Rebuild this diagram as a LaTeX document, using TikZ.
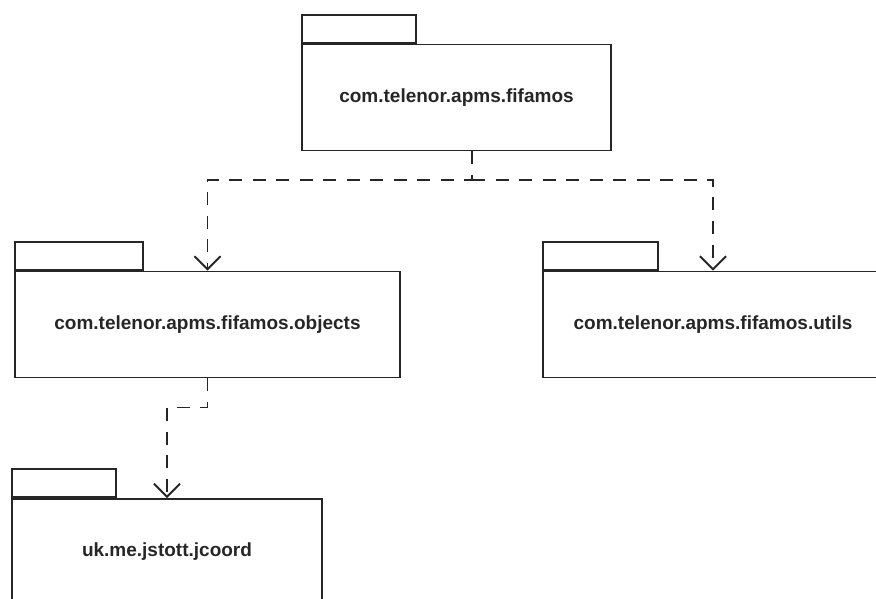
\documentclass[tikz,border=0pt]{standalone}
\usepackage{fontspec}
\setmainfont{Liberation Sans}
\usetikzlibrary{positioning,arrows.meta}
\tikzset{
  pkgbody/.style={draw=black!85, line width=1.9pt, fill=white, minimum height=106pt, align=center, inner sep=0pt, font=\bfseries\fontsize{19}{23}\selectfont, text=black!85},
  pkgtab/.style={draw=black!85, line width=1.9pt, fill=white, minimum height=28pt, inner sep=0pt, anchor=south west},
  deparrow/.style={-{Straight Barb[length=13pt, width=26pt]}, line width=1.9pt, dash pattern=on 13pt off 10.5pt, black!85}
}

\begin{document}
\begin{tikzpicture}[x=1pt, y=1pt]
  \clip (0,0) rectangle (876,-599);
  \fill[white] (0,0) rectangle (876,-599);
  \node[pkgbody, minimum width=309pt] (fifamos) at (456.5,-97.5) {com.telenor.apms.fifamos};
  \node[pkgbody, minimum width=385pt] (objects) at (207.5,-324.5) {com.telenor.apms.fifamos.objects};
  \node[pkgbody, minimum width=340pt] (utils) at (713,-324.5) {com.telenor.apms.fifamos.utils};
  \node[pkgbody, minimum width=310pt] (jcoord) at (167,-552) {uk.me.jstott.jcoord};
  \node[pkgtab, minimum width=114pt] (fifamostab) at (fifamos.north west) {};
  \node[pkgtab, minimum width=128pt] (objectstab) at (objects.north west) {};
  \node[pkgtab, minimum width=115pt] (utilstab) at (utils.north west) {};
  \node[pkgtab, minimum width=104pt] (jcoordtab) at (jcoord.north west) {};
  \coordinate (split) at (472,-180);
  \draw[deparrow] (fifamos.south -| split) -- (split) -| (objects.north);
  \draw[deparrow] (split) -| (utils.north);
  \draw[deparrow] (objects.south) -- ++(0,-29) -| (jcoord.north);
\end{tikzpicture}
\end{document}
